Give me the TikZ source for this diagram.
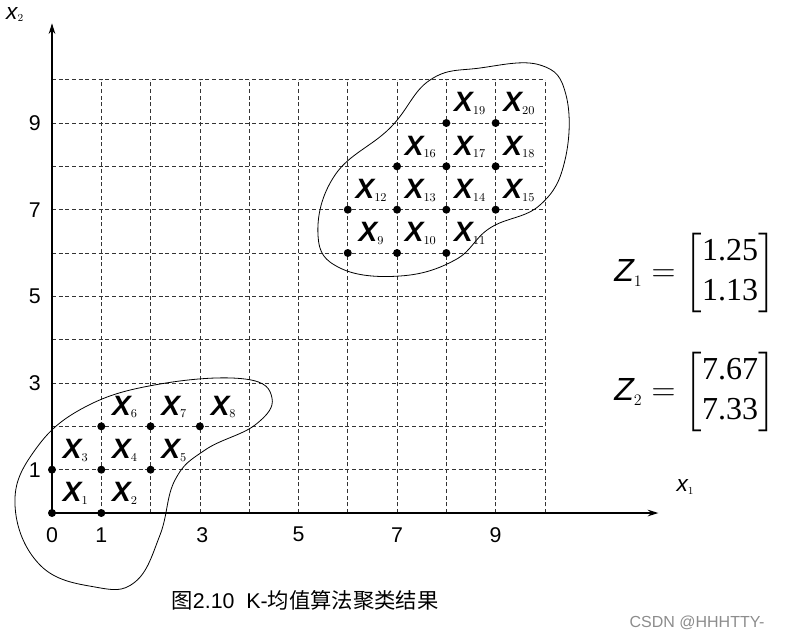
\documentclass[tikz,border=0pt]{standalone}
\usepackage{amsmath}
\usepackage{fontspec}
\setmainfont{Liberation Sans}
\newfontfamily\cjk{Noto Sans CJK SC}
\newfontfamily\serifz{Liberation Serif}
\usetikzlibrary{arrows.meta}
\tikzset{
  gridl/.style={densely dashed, line width=0.5pt, black!80},
  axisl/.style={line width=0.8pt,-{Stealth[length=8pt,width=5pt]}},
  pt/.style={circle, fill=black, inner sep=0pt, minimum size=6pt},
  xlab/.style={font=\fontsize{21}{22}\selectfont\bfseries\itshape, inner sep=0pt},
  tick/.style={font=\fontsize{16}{18}\selectfont},
  blob/.style={line width=0.6pt}
}
\newcommand{\xl}[1]{X{\fontsize{13}{14}\selectfont\mdseries\upshape$_{#1}$}}
\begin{document}
\begin{tikzpicture}[x=0.75pt,y=-0.75pt]
\useasboundingbox (0,0) rectangle (787,640);
\begin{scope}[shift={(52,513)},x=36.97pt,y=32.5pt]
  \foreach \i in {1,...,10} {
    \draw[gridl] (\i,0) -- (\i,10);
    \draw[gridl] (0,\i) -- (10,\i);
  }
  \coordinate (O) at (0,0);
  \coordinate (xe) at (12.3,0);
  \coordinate (ye) at (0,11.3);
  \draw[axisl] (O) -- (xe);
  \draw[axisl] (O) -- (ye);
  \node[font=\fontsize{17}{18}\selectfont\itshape] (xa) at (12.85,0.6) {x\fontsize{11}{12}\selectfont\upshape$_1$};
  \node[font=\fontsize{17}{18}\selectfont\itshape] (ya) at (-0.75,11.5) {x\fontsize{11}{12}\selectfont\upshape$_2$};
  \foreach \v/\p in {0/0,1/1,3/3.05,5/5,7/7,9/9}
    \node[tick] (tx\v) at (\p,-0.5) {\v};
  \foreach \v in {1,3,5,7,9}
    \node[tick] (ty\v) at (-0.35,\v) {\v};
  % points cluster 1
  \foreach \x/\y/\n in {0/0/1,1/0/2,0/1/3,1/1/4,2/1/5,1/2/6,2/2/7,3/2/8,
                        6/6/9,7/6/10,8/6/11,6/7/12,7/7/13,8/7/14,9/7/15,
                        7/8/16,8/8/17,9/8/18,8/9/19,9/9/20} {
    \node[pt] (p\n) at (\x,\y) {};
    \node[xlab] (l\n) at (\x+0.48,\y+0.45) {\xl{\n}};
  }
\end{scope}
\draw[blob] plot[smooth cycle, tension=0.7] coordinates {
 (15,505) (35,450) (85,407) (160,384) (245,379) (272,398) (255,425) (205,450) (175,480)
 (160,535) (135,582) (95,587) (40,565)};
\draw[blob] plot[smooth cycle, tension=0.7] coordinates {
 (318,235) (335,175) (390,128) (430,80) (480,68) (540,65) (566,95) (565,160) (540,205)
 (490,228) (455,260) (400,276) (340,268)};
\node[font=\serifz\fontsize{24}{28}\selectfont] (z1) at (695,273)
  {$\mathit{Z}_{\scriptscriptstyle 1}=\begin{bmatrix}\text{1.25}\\[2pt]\text{1.13}\end{bmatrix}$};
\node[font=\serifz\fontsize{24}{28}\selectfont] (z2) at (695,392)
  {$\mathit{Z}_{\scriptscriptstyle 2}=\begin{bmatrix}\text{7.67}\\[2pt]\text{7.33}\end{bmatrix}$};
\node[font=\fontsize{16}{18}\selectfont] (cap) at (305,600) {{\cjk 图}2.10\ \ K-{\cjk 均值算法聚类结果}};
\node[font=\fontsize{12}{14}\selectfont, text=black!45] (wm) at (697,623) {CSDN @HHHTTY-};
\end{tikzpicture}
\end{document}
